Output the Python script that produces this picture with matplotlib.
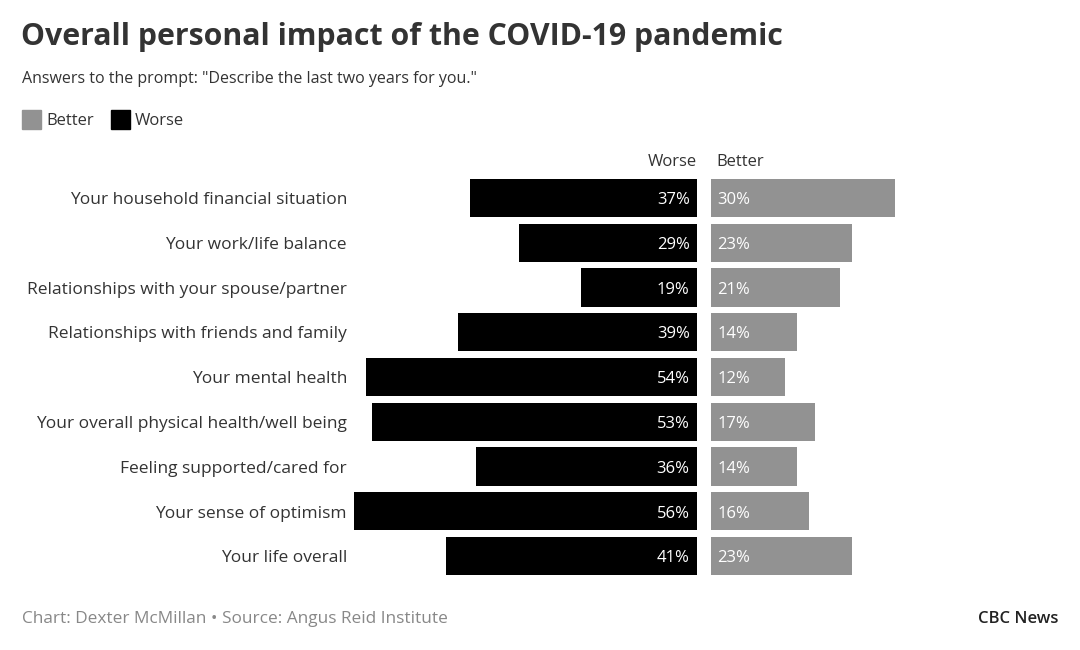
import matplotlib
matplotlib.use("Agg")
import matplotlib.pyplot as plt
from matplotlib.patches import Rectangle

plt.rcParams['font.family'] = ['Open Sans', 'DejaVu Sans']

categories = [
    "Your household financial situation",
    "Your work/life balance",
    "Relationships with your spouse/partner",
    "Relationships with friends and family",
    "Your mental health",
    "Your overall physical health/well being",
    "Feeling supported/cared for",
    "Your sense of optimism",
    "Your life overall",
]
worse = [37, 29, 19, 39, 54, 53, 36, 56, 41]
better = [30, 23, 21, 14, 12, 17, 14, 16, 23]

W, H = 1080, 650
c_worse = "#000000"
c_better = "#929292"
c_text = "#333333"

fig = plt.figure(figsize=(W / 100, H / 100), dpi=100)

def px(x0, y0, x1, y1):
    # pixel box (top-left origin) -> figure fraction rect
    return [x0 / W, 1 - y1 / H, (x1 - x0) / W, (y1 - y0) / H]

scale = 6.13  # px per percent
ytop, ybot = 175.6, 578.4
axL = fig.add_axes(px(340, ytop, 697, ybot))
axR = fig.add_axes(px(711, ytop, 1060, ybot))

ypos = list(range(len(categories)))
axL.barh(ypos, worse, height=0.85, color=c_worse)
axR.barh(ypos, better, height=0.85, color=c_better)
axL.set_xlim(357 / scale, 0)
axR.set_xlim(0, 349 / scale)
for ax in (axL, axR):
    ax.set_ylim(len(categories) - 0.5, -0.5)
    ax.axis("off")

dy = 0.05  # small nudge down so text sits centred like the original
for i, v in enumerate(worse):
    axL.text(1.2, i + dy, f"{v}%", ha="right", va="center", color="white", fontsize=12)
for i, v in enumerate(better):
    axR.text(1.0, i + dy, f"{v}%", ha="left", va="center", color="white", fontsize=12)
for i, c in enumerate(categories):
    axL.annotate(c, xy=(0, i + dy), xycoords=("axes fraction", "data"), xytext=(347 - 340, 0),
                 textcoords="offset pixels", ha="right", va="center", color=c_text, fontsize=12.5)

fig.text(697 / W, 1 - 162 / H, "Worse", ha="right", va="center", color=c_text, fontsize=12)
fig.text(716 / W, 1 - 162 / H, "Better", ha="left", va="center", color=c_text, fontsize=12)

fig.text(21 / W, 1 - 37 / H, "Overall personal impact of the COVID-19 pandemic",
         ha="left", va="center", color=c_text, fontsize=21.8, fontweight="bold")
fig.text(22 / W, 1 - 79 / H, 'Answers to the prompt: "Describe the last two years for you."',
         ha="left", va="center", color=c_text, fontsize=11.5)

# legend
fig.patches.append(Rectangle((22 / W, 1 - 129 / H), 19 / W, 19 / H, transform=fig.transFigure,
                             color=c_better))
fig.text(46 / W, 1 - 121 / H, "Better", ha="left", va="center", color=c_text, fontsize=12)
fig.patches.append(Rectangle((111 / W, 1 - 129 / H), 19 / W, 19 / H, transform=fig.transFigure,
                             color=c_worse))
fig.text(135 / W, 1 - 121 / H, "Worse", ha="left", va="center", color=c_text, fontsize=12)

fig.text(22 / W, 1 - 619 / H, "Chart: Dexter McMillan \u2022 Source: Angus Reid Institute",
         ha="left", va="center", color="#888888", fontsize=12.4)
fig.text(1059 / W, 1 - 619 / H, "CBC News", ha="right", va="center", color="#222222",
         fontsize=12, fontweight="semibold")

fig.savefig("out.png", dpi=100, facecolor="white")
